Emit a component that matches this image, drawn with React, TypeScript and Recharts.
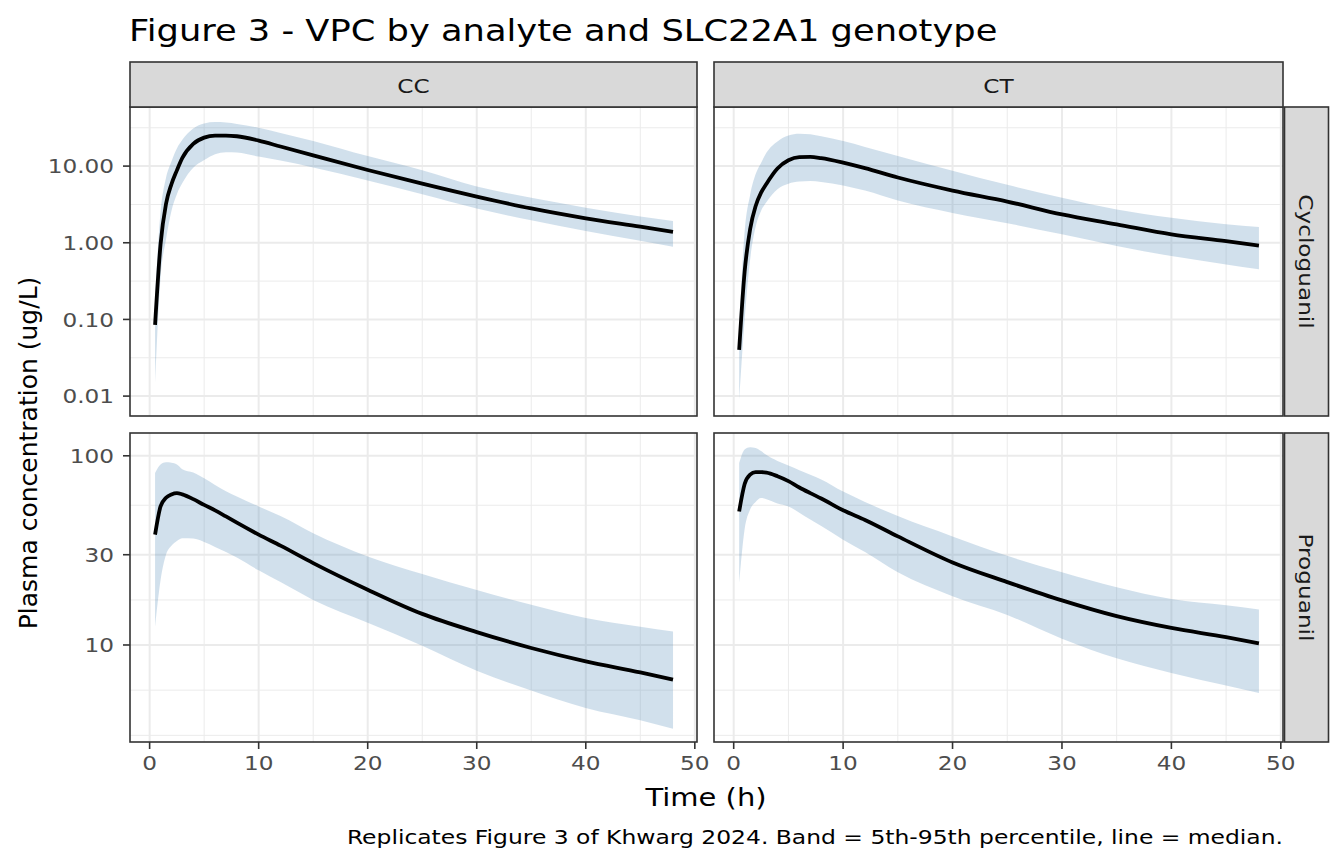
import { ComposedChart, Area, Line, XAxis, YAxis, CartesianGrid } from 'recharts';

const TIME = [0.5, 1, 1.5, 2, 2.5, 3, 4, 5, 6, 7, 8, 10, 12, 15, 20, 25, 30, 35, 40, 45, 48];

// Cycloguanil, CC
const CYC_CC_MED = [0.085, 0.95, 3.2, 5.8, 8.8, 12.8, 19.5, 23.5, 25, 25, 24.5, 21.5, 18, 13.8, 8.9, 5.9, 4.0, 2.8, 2.08, 1.62, 1.39];
const CYC_CC_P95 = [0.2, 2.5, 7, 11.5, 17, 22, 31, 36, 37.5, 37, 35.5, 31.6, 27, 21.3, 13.5, 8.8, 5.4, 3.87, 2.87, 2.2, 1.92];
const CYC_CC_P05 = [0.015, 0.35, 1.1, 2.6, 4.3, 6.0, 9.5, 12, 14.3, 15.2, 15, 13.3, 11.8, 9.6, 6.5, 4.3, 2.8, 1.96, 1.42, 1.06, 0.89];

// Cycloguanil, CT
const CYC_CT_MED = [0.04, 0.42, 1.5, 3.0, 4.5, 5.9, 9.3, 11.9, 13.1, 13.2, 12.7, 11.1, 9.4, 7.1, 4.8, 3.45, 2.34, 1.74, 1.29, 1.05, 0.92];
const CYC_CT_P95 = [0.08, 1.4, 4.2, 7.8, 11, 15, 21, 25, 26.5, 26, 24.5, 21.2, 17.8, 13.5, 8.7, 5.7, 3.87, 2.72, 2.12, 1.75, 1.6];
const CYC_CT_P05 = [0.009, 0.1, 0.6, 1.6, 2.6, 3.4, 5.0, 5.9, 6.3, 6.4, 6.2, 5.6, 4.8, 3.55, 2.45, 1.8, 1.29, 0.91, 0.67, 0.52, 0.45];

// Proguanil, CC
const PRO_CC_MED = [38.3, 54, 60, 62.5, 63.5, 62.5, 59, 55, 51.5, 47.8, 44.3, 38.3, 33.5, 27.1, 19.6, 14.6, 11.7, 9.64, 8.19, 7.16, 6.56];
const PRO_CC_P95 = [81, 90, 92.5, 92, 90, 85, 81.6, 76, 70, 65, 61, 54, 48, 39, 29.4, 23.7, 19.5, 16.3, 13.9, 12.5, 11.8];
const PRO_CC_P05 = [12.5, 22, 30, 33.5, 35.5, 36.7, 36.5, 35, 33, 31, 29, 24.8, 21.5, 17.3, 13.1, 9.9, 7.3, 5.75, 4.65, 4.0, 3.61];

// Proguanil, CT
const PRO_CT_MED = [50.8, 71, 79.5, 82, 82, 81.5, 78, 73.5, 68, 63.5, 59.5, 51.5, 45.8, 37.5, 27.3, 21.5, 17.2, 14.2, 12.3, 11.0, 10.2];
const PRO_CT_P95 = [91.5, 108, 111, 110, 106, 101, 94, 89, 84, 79.5, 75, 64.7, 57, 48, 37.5, 29.6, 24.2, 20.2, 17.5, 16.2, 15.4];
const PRO_CT_P05 = [21.3, 41, 52, 57, 59.8, 59, 56, 54, 50, 46, 42.5, 36, 31, 24.2, 18.1, 14.4, 10.8, 8.5, 7.1, 6.1, 5.57];

const X_TICKS = [0, 10, 20, 30, 40, 50];
const X_MINOR = [5, 15, 25, 35, 45];
const CYC_TICKS = [0.01, 0.1, 1, 10];
const CYC_MINOR = [0.0316, 0.316, 3.16, 31.6];
const PRO_TICKS = [10, 30, 100];
const PRO_MINOR = [3.33, 5.77, 17.3, 54.8];

const GENOTYPES = ['CC', 'CT'];
const ANALYTES = ['Cycloguanil', 'Proguanil'];

const FONT = '"DejaVu Sans", sans-serif';
const SX = 1.16;
const X_DOMAIN: [number, number] = [-1.8, 50.2];

const COL_X = [130, 714];
const COL_W = [567, 569];
const ROW_Y = [107, 433];
const PANEL_H = 309;
const Y_AXIS_W = 130;
const X_AXIS_H = 40;
const RIGHT_PAD = 20;

function rows(med: number[], lo: number[], hi: number[]) {
  return TIME.map((t, i) => ({ t, med: med[i], band: [lo[i], hi[i]] }));
}

const PANELS = [
  { row: 0, col: 0, data: rows(CYC_CC_MED, CYC_CC_P05, CYC_CC_P95) },
  { row: 0, col: 1, data: rows(CYC_CT_MED, CYC_CT_P05, CYC_CT_P95) },
  { row: 1, col: 0, data: rows(PRO_CC_MED, PRO_CC_P05, PRO_CC_P95) },
  { row: 1, col: 1, data: rows(PRO_CT_MED, PRO_CT_P05, PRO_CT_P95) },
];

const ROW_AXES = [
  { domain: [0.0055, 59] as [number, number], ticks: CYC_TICKS, minor: CYC_MINOR, fmt: (v: number) => v.toFixed(2) },
  { domain: [3.07, 132] as [number, number], ticks: PRO_TICKS, minor: PRO_MINOR, fmt: (v: number) => String(v) },
];

function YTick(props: any) {
  const { x, y, payload, fmt } = props;
  return (
    <g transform={`translate(${x},${y}) scale(${SX},1)`}>
      <text textAnchor="end" dy="0.36em" fontSize={20} fill="#4D4D4D" fontFamily={FONT}>
        {fmt(payload.value)}
      </text>
    </g>
  );
}

function XTick(props: any) {
  const { x, y, payload } = props;
  return (
    <g transform={`translate(${x},${y}) scale(${SX},1)`}>
      <text textAnchor="middle" dy="0.72em" fontSize={20} fill="#4D4D4D" fontFamily={FONT}>
        {payload.value}
      </text>
    </g>
  );
}

function Panel({ row, col, data }: { row: number; col: number; data: any[] }) {
  const ax = ROW_AXES[row];
  const showY = col === 0;
  const showX = row === 1;
  const left = showY ? COL_X[col] - Y_AXIS_W : COL_X[col];
  const width = COL_W[col] + (showY ? Y_AXIS_W : 0) + RIGHT_PAD;
  const height = PANEL_H + (showX ? X_AXIS_H : 0);
  return (
    <div style={{ position: 'absolute', left, top: ROW_Y[row] }}>
      <ComposedChart width={width} height={height} data={data} margin={{ top: 0, right: RIGHT_PAD, bottom: 0, left: 0 }}>
        <CartesianGrid
          stroke="#EBEBEB"
          strokeWidth={1}
          horizontalValues={ax.minor}
          verticalValues={X_MINOR}
        />
        <CartesianGrid
          stroke="#EBEBEB"
          strokeWidth={2}
          horizontalValues={ax.ticks}
          verticalValues={X_TICKS}
        />
        <XAxis
          dataKey="t"
          type="number"
          domain={X_DOMAIN}
          ticks={X_TICKS}
          allowDataOverflow
          hide={!showX}
          height={X_AXIS_H}
          axisLine={false}
          tickSize={7}
          tickMargin={7}
          tickLine={{ stroke: '#333333', strokeWidth: 1.6 }}
          tick={(p: any) => <XTick {...p} />}
        />
        <YAxis
          type="number"
          scale="log"
          domain={ax.domain}
          ticks={ax.ticks}
          allowDataOverflow
          hide={!showY}
          width={Y_AXIS_W}
          axisLine={false}
          tickSize={7}
          tickMargin={9}
          tickLine={{ stroke: '#333333', strokeWidth: 1.6 }}
          tick={(p: any) => <YTick {...p} fmt={ax.fmt} />}
        />
        <Area
          dataKey="band"
          type="monotone"
          stroke="none"
          fill="#4682B4"
          fillOpacity={0.25}
          isAnimationActive={false}
        />
        <Line
          dataKey="med"
          type="monotone"
          stroke="#000000"
          strokeWidth={3.8}
          dot={false}
          isAnimationActive={false}
        />
      </ComposedChart>
    </div>
  );
}

export default function App() {
  return (
    <div style={{ position: 'absolute', left: 0, top: 0, width: 1344, height: 864, background: '#fff', fontFamily: FONT }}>
      {PANELS.map((p) => (
        <Panel key={`${p.row}-${p.col}`} {...p} />
      ))}
      <svg width={1344} height={864} style={{ position: 'absolute', left: 0, top: 0, pointerEvents: 'none' }}>
        {ROW_Y.map((y, r) =>
          COL_X.map((x, c) => (
            <rect key={`b${r}${c}`} x={x} y={y} width={COL_W[c]} height={PANEL_H} fill="none" stroke="#333333" strokeWidth={1.6} />
          ))
        )}
        {GENOTYPES.map((g, c) => (
          <g key={g}>
            <rect x={COL_X[c]} y={62} width={COL_W[c]} height={45} fill="#D9D9D9" stroke="#333333" strokeWidth={1.6} />
            <g transform={`translate(${COL_X[c] + COL_W[c] / 2},93) scale(${SX},1)`}>
              <text textAnchor="middle" fontSize={20} fill="#1A1A1A" fontFamily={FONT}>{g}</text>
            </g>
          </g>
        ))}
        {ANALYTES.map((a, r) => (
          <g key={a}>
            <rect x={1284.5} y={ROW_Y[r]} width={44} height={PANEL_H} fill="#D9D9D9" stroke="#333333" strokeWidth={1.6} />
            <g transform={`translate(1306.5,${ROW_Y[r] + PANEL_H / 2}) rotate(90) scale(${SX},1)`}>
              <text textAnchor="middle" dy="0.36em" fontSize={20} fill="#1A1A1A" fontFamily={FONT}>{a}</text>
            </g>
          </g>
        ))}
        <g transform={`translate(129,40.5) scale(${SX},1)`}>
          <text fontSize={30.4} fill="#000" fontFamily={FONT}>Figure 3 - VPC by analyte and SLC22A1 genotype</text>
        </g>
        <g transform="translate(37,453) rotate(-90)">
          <text textAnchor="middle" fontSize={25} fill="#000" fontFamily={FONT}>Plasma concentration (ug/L)</text>
        </g>
        <g transform={`translate(706,806) scale(${SX},1)`}>
          <text textAnchor="middle" fontSize={25} fill="#000" fontFamily={FONT}>Time (h)</text>
        </g>
        <g transform={`translate(1283,844) scale(${SX},1)`}>
          <text textAnchor="end" fontSize={20.2} fill="#000" fontFamily={FONT}>
            Replicates Figure 3 of Khwarg 2024. Band = 5th-95th percentile, line = median.
          </text>
        </g>
      </svg>
    </div>
  );
}
